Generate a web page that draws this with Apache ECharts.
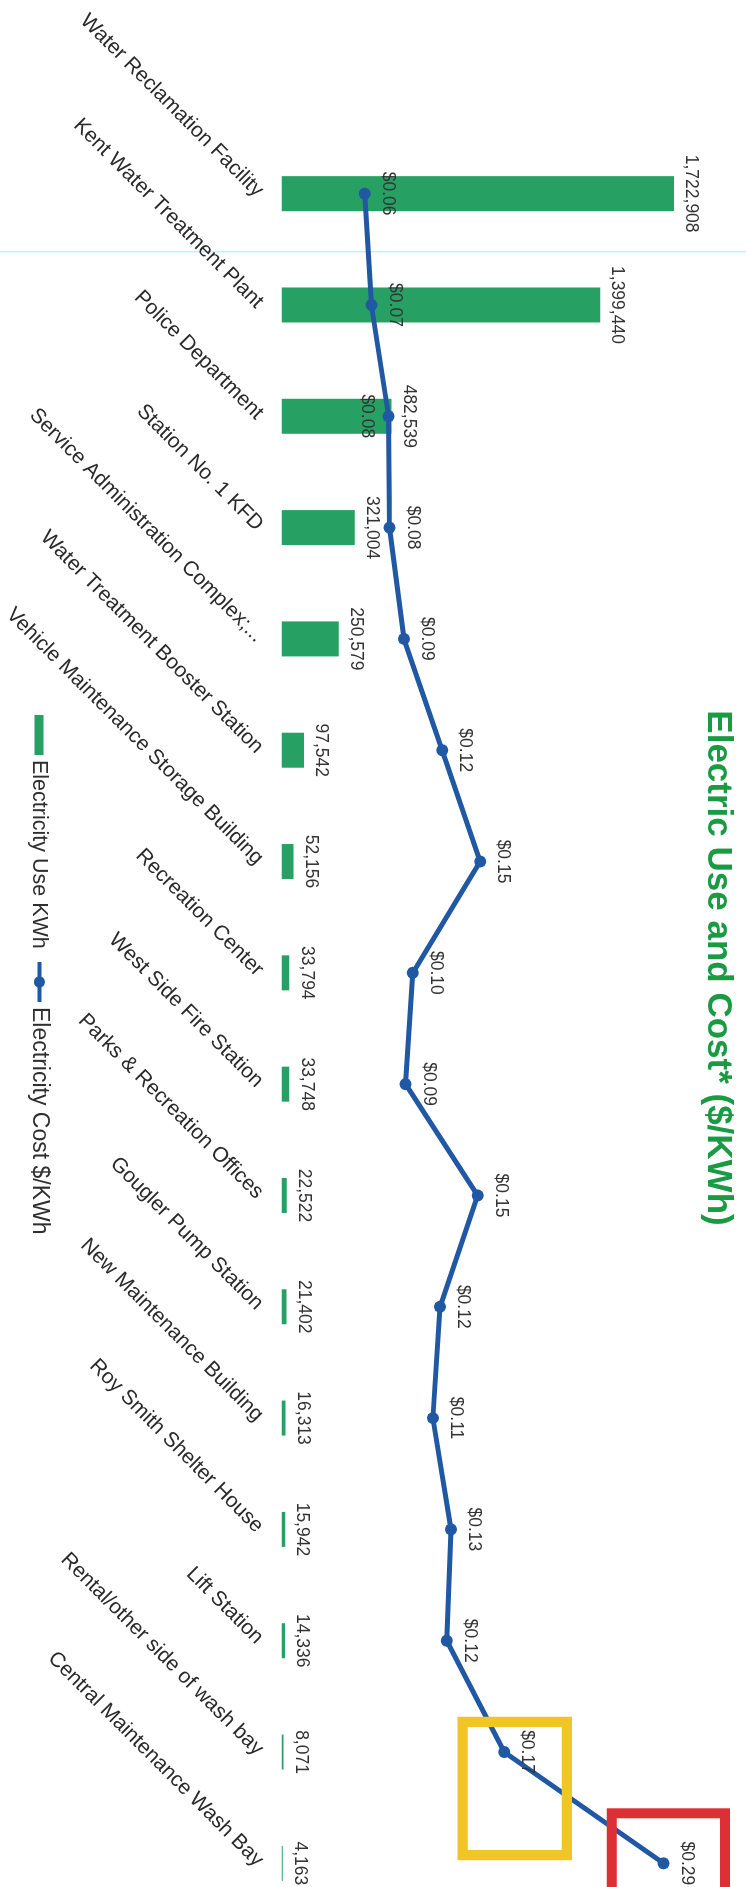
<!DOCTYPE html>
<html>
<head>
<meta charset="utf-8">
<script src="https://cdn.jsdelivr.net/npm/echarts@6/dist/echarts.min.js"></script>
<style>
html,body{margin:0;padding:0;width:746px;height:1887px;overflow:hidden;background:#ffffff;}
#wrap{position:absolute;left:0;top:0;width:1936px;height:746px;transform-origin:0 0;transform:translate(746px,0) rotate(90deg);}
</style>
</head>
<body>
<div id="wrap"></div>
<script>
const categories = [
  'Water Reclamation Facility',
  'Kent Water Treatment Plant',
  'Police Department',
  'Station No. 1 KFD',
  'Service Administration Complex;...',
  'Water Treatment Booster Station',
  'Vehicle Maintenance Storage Building',
  'Recreation Center',
  'West Side Fire Station',
  'Parks & Recreation Offices',
  'Gougler Pump Station',
  'New Maintenance Building',
  'Roy Smith Shelter House',
  'Lift Station',
  'Rental/other side of wash bay',
  'Central Maintenance Wash Bay'
];
const usageKWh = [1722908, 1399440, 482539, 321004, 250579, 97542, 52156, 33794, 33748, 22522, 21402, 16313, 15942, 14336, 8071, 4163];
const costPerKWh = [0.0626, 0.0677, 0.0807, 0.0814, 0.0923, 0.1211, 0.1498, 0.0990, 0.0935, 0.1479, 0.1195, 0.1141, 0.1278, 0.1246, 0.1679, 0.2882];
const seriesNames = ['Electricity Use KWh', 'Electricity Cost $/KWh'];
const titleText = 'Electric Use and Cost* ($/KWh)';

const FONT = '"Liberation Sans", Arial, sans-serif';
const W = 1936, H = 746;
const BAR_COLOR = '#27a063';
const LINE_COLOR = '#2058a3';
const chart = echarts.init(document.getElementById('wrap'), null, {width: W, height: H, renderer: 'canvas'});

function fmtNum(v){ return String(v).replace(/\B(?=(\d{3})+(?!\d))/g, ','); }

const costData = costPerKWh.map((v, i) => {
  if (i === 2) return {value: v, label: {position: 'bottom', distance: 7}};
  return v;
});

chart.setOption({
  animation: false,
  backgroundColor: '#ffffff',
  title: {
    text: titleText,
    left: 'center',
    top: 6,
    textStyle: {fontFamily: FONT, fontSize: 35, fontWeight: 'bold', color: '#1b9a44'}
  },
  legend: [
    {
      data: [{name: seriesNames[0], icon: 'rect'}],
      left: 715,
      top: 696,
      padding: 0,
      itemWidth: 40,
      itemHeight: 9,
      itemGap: 5,
      textStyle: {fontFamily: FONT, fontSize: 21.5, color: '#2e2e2e'}
    },
    {
      data: [seriesNames[1]],
      left: 960,
      top: 695,
      padding: 0,
      itemWidth: 40,
      itemHeight: 14,
      lineStyle: {width: 4},
      textStyle: {fontFamily: FONT, fontSize: 23, color: '#2e2e2e'}
    }
  ],
  grid: {left: 138, right: 17, top: 9, bottom: 280, containLabel: false},
  xAxis: {
    type: 'category',
    data: categories,
    axisLine: {show: false},
    axisTick: {show: false},
    axisLabel: {interval: 0, rotate: 45, margin: 22, fontFamily: FONT, fontSize: 21, color: '#2a2a2a'}
  },
  yAxis: [
    {type: 'value', min: 0, max: 2000000, show: false, splitLine: {show: false}},
    {type: 'value', min: 0, max: 0.3436, show: false, splitLine: {show: false}}
  ],
  series: [
    {
      name: seriesNames[0],
      type: 'bar',
      data: usageKWh,
      barWidth: 35,
      itemStyle: {color: BAR_COLOR},
      label: {show: true, position: 'top', distance: 8, fontFamily: FONT, fontSize: 17.5, color: '#333333',
        formatter: p => fmtNum(p.value)}
    },
    {
      name: seriesNames[1],
      type: 'line',
      yAxisIndex: 1,
      data: costData,
      symbol: 'circle',
      symbolSize: 12,
      lineStyle: {width: 5, color: LINE_COLOR},
      itemStyle: {color: LINE_COLOR},
      label: {show: true, position: 'top', distance: 8, fontFamily: FONT, fontSize: 17.5, color: '#333333',
        formatter: p => '$' + Number(p.value).toFixed(2)},
      z: 3
    }
  ],
  graphic: [
    {type: 'line', shape: {x1: 251.7, y1: 0, x2: 251.7, y2: H}, style: {stroke: '#c8edf6', lineWidth: 1.5}, z: 0, silent: true},
    {type: 'rect', shape: {x: 1721.9, y: 179.1, width: 133.2, height: 104.2}, style: {fill: 'none', stroke: '#f2c526', lineWidth: 10.3}, z: 100, silent: true},
    {type: 'rect', shape: {x: 1813.3, y: 21, width: 160, height: 113.3}, style: {fill: 'none', stroke: '#dc3034', lineWidth: 10}, z: 100, silent: true}
  ]
});
</script>
</body>
</html>
